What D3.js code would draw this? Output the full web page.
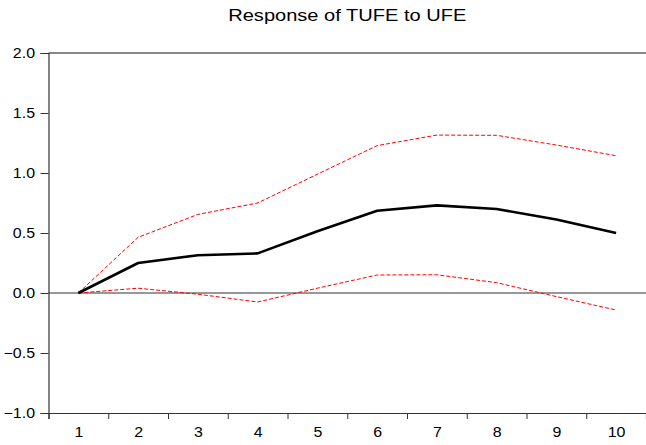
<!DOCTYPE html>
<html>
<head>
<meta charset="utf-8">
<script src="https://cdn.jsdelivr.net/npm/d3@7"></script>
<style>
  body { margin: 0; background: #fff; }
  text { font-family: "Liberation Sans", Arial, sans-serif; fill: #000; }
</style>
</head>
<body>
<div id="chart"></div>
<script>
const periods = [1, 2, 3, 4, 5, 6, 7, 8, 9, 10];
const response = [0.0, 0.25, 0.315, 0.33, 0.515, 0.685, 0.73, 0.70, 0.612, 0.50];
const upperBand = [0.0, 0.464, 0.655, 0.75, 0.99, 1.228, 1.316, 1.314, 1.233, 1.144];
const lowerBand = [0.0, 0.04, -0.01, -0.075, 0.04, 0.15, 0.152, 0.086, -0.03, -0.142];
const yTicks = [-1.0, -0.5, 0.0, 0.5, 1.0, 1.5, 2.0];

const width = 646;
const height = 445;
const margin = { top: 53, right: 0, bottom: 32, left: 48.5 };
const sx = 1.14; // horizontal text stretch seen in the picture

const svg = d3.select('#chart')
  .append('svg')
  .attr('width', width)
  .attr('height', height);

svg.append('rect').attr('width', width).attr('height', height).attr('fill', '#fff');

const x = d3.scaleLinear()
  .domain([0.5, 10.5])
  .range([margin.left, width - margin.right]);

const y = d3.scaleLinear()
  .domain([-1, 2])
  .range([height - margin.bottom, margin.top]);

// title
svg.append('text')
  .attr('transform', `translate(${(margin.left + width) / 2}, 21) scale(1.18,1)`)
  .attr('text-anchor', 'middle')
  .style('font-size', '17px')
  .text('Response of TUFE to UFE');

// top frame line
svg.append('line')
  .attr('x1', margin.left).attr('x2', width)
  .attr('y1', y(2)).attr('y2', y(2))
  .attr('stroke', '#111').attr('stroke-width', 1.2);

// zero line
svg.append('line')
  .attr('x1', margin.left).attr('x2', width)
  .attr('y1', y(0)).attr('y2', y(0))
  .attr('stroke', '#333').attr('stroke-width', 1.2);

// y axis
const yAxis = svg.append('g')
  .attr('transform', `translate(${margin.left},0)`)
  .call(d3.axisLeft(y).tickValues(yTicks).tickSize(8).tickPadding(5).tickFormat(d3.format('.1f')));
yAxis.select('.domain').attr('stroke', '#333').attr('stroke-width', 1.2);
yAxis.selectAll('.tick line').attr('stroke', '#333');
yAxis.selectAll('.tick text')
  .style('font-size', '14px')
  .attr('fill', '#000')
  .attr('x', -13.5 / sx)
  .attr('transform', `scale(${sx},1)`);

// x axis: boundary ticks
const xBase = height - margin.bottom;
const xTickAxis = svg.append('g')
  .attr('transform', `translate(0,${xBase})`)
  .call(d3.axisBottom(x).tickValues(periods.map(p => p - 0.5)).tickSize(6).tickFormat(''));
xTickAxis.select('.domain').attr('stroke', '#333').attr('stroke-width', 1.2);
xTickAxis.selectAll('.tick line').attr('stroke', '#333');

// x axis: period labels
const xLabelAxis = svg.append('g')
  .attr('transform', `translate(0,${xBase})`)
  .call(d3.axisBottom(x).tickValues(periods).tickSize(0).tickFormat(d3.format('d')));
xLabelAxis.select('.domain').remove();
xLabelAxis.selectAll('.tick text')
  .style('font-size', '14px')
  .attr('fill', '#000')
  .attr('y', 24)
  .attr('dy', 0)
  .each(function () {
    const t = d3.select(this.parentNode).attr('transform');
    const tx = +t.match(/translate\(([-\d.]+)/)[1];
    d3.select(this.parentNode).attr('transform', `translate(${tx},0) scale(${sx},1)`);
  });

// lines
const line = d3.line()
  .x((d, i) => x(periods[i]))
  .y(d => y(d));

svg.append('path')
  .datum(upperBand)
  .attr('d', line)
  .attr('fill', 'none')
  .attr('stroke', '#ff0000')
  .attr('stroke-width', 1)
  .attr('stroke-dasharray', '4,2');

svg.append('path')
  .datum(lowerBand)
  .attr('d', line)
  .attr('fill', 'none')
  .attr('stroke', '#ff0000')
  .attr('stroke-width', 1)
  .attr('stroke-dasharray', '4,2');

svg.append('path')
  .datum(response)
  .attr('d', line)
  .attr('fill', 'none')
  .attr('stroke', '#000')
  .attr('stroke-width', 2.6)
  .attr('stroke-linejoin', 'round');
</script>
</body>
</html>
